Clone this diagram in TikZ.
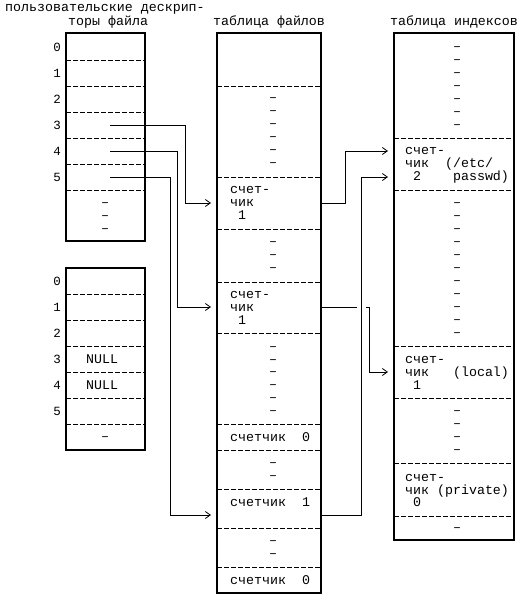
\documentclass[tikz,border=0pt]{standalone}
\usepackage{fontspec}
\newfontfamily\monof{Liberation Mono}
\usetikzlibrary{arrows.meta}
\begin{document}
\begin{tikzpicture}[x=1pt,y=-1pt,
  tbl/.style={draw, line width=2.5pt, inner sep=0pt, outer sep=0pt, anchor=north west},
  sep/.style={line width=0.9pt, dash pattern=on 5pt off 2pt},
  conn/.style={line width=0.9pt},
  arr/.style={conn, -{Straight Barb[length=5pt,width=7pt,line width=0.8pt]}},
  txt/.style={anchor=base west, inner sep=0pt, font=\monof\fontsize{13.3}{15}\selectfont},
  num/.style={anchor=base, inner sep=0pt, font=\monof\fontsize{12.5}{15}\selectfont},
  dsh/.style={anchor=base, inner sep=0pt, font=\monof\fontsize{13.3}{15}\selectfont}]
\useasboundingbox (0,0) rectangle (520,601);

% titles
\node[txt] (title1) at (5,12) {пользовательские дескрип-};
\node[txt] (title2) at (68,26) {торы файла};
\node[txt] (title3) at (213,26) {таблица файлов};
\node[txt] (title4) at (390,26) {таблица индексов};

% tables
\node[tbl, minimum width=79pt, minimum height=208pt] (ud1) at (66,33) {};
\node[tbl, minimum width=79pt, minimum height=182pt] (ud2) at (66,268) {};
\node[tbl, minimum width=104pt, minimum height=560pt] (ft) at (217,33) {};
\node[tbl, minimum width=120pt, minimum height=507pt] (it) at (394,33) {};

% separators
\foreach \y in {60,86,112,138,164,190} \draw[sep] (66,\y) -- (145,\y);
\foreach \y in {294,320,346,372,398,424} \draw[sep] (66,\y) -- (145,\y);
\foreach \y in {86,177,229,282,333,424,450,489,528,567} \draw[sep] (217,\y) -- (321,\y);
\foreach \y in {138,190,346,398,463,516} \draw[sep] (394,\y) -- (514,\y);

% row numbers
\foreach \y [count=\i from 0] in {47,73,99,125,151,177} \node[num] (na\i) at (57,\y+4.5) {\i};
\foreach \y [count=\i from 0] in {281,307,333,359,385,411} \node[num] (nb\i) at (57,\y+4.5) {\i};

% dashes
\foreach \y [count=\i] in {203,216,229} \node[dsh] (da\i) at (105,\y+3.5) {–};
\node[dsh] (db1) at (105,440.5) {–};
\foreach \y [count=\i] in {98,111,124,137,150,163,242,255,268,347,360,372,385,398,411,463,476,541,554}
  \node[dsh] (dm\i) at (273,\y+3.5) {–};
\foreach \y [count=\i] in {47,60,73,86,99,112,125,203,216,229,242,255,268,281,294,307,320,333,411,424,437,450,528}
  \node[dsh] (dr\i) at (457,\y+3.5) {–};

% NULL
\node[txt] (null3) at (86,363) {NULL};
\node[txt] (null4) at (86,389) {NULL};

% file table texts
\node[txt] (m1a) at (230,194) {счет-};
\node[txt] (m1b) at (230,207) {чик};
\node[txt] (m1c) at (230,220) {~1};
\node[txt] (m2a) at (230,298) {счет-};
\node[txt] (m2b) at (230,311) {чик};
\node[txt] (m2c) at (230,324) {~1};
\node[txt] (m3) at (230,441) {счетчик~~0};
\node[txt] (m4) at (230,506) {счетчик~~1};
\node[txt] (m5) at (230,584) {счетчик~~0};

% inode table texts
\node[txt] (r1a) at (405,155) {счет-};
\node[txt] (r1b) at (405,168) {чик~~(/etc/};
\node[txt] (r1c) at (405,181) {~2~~~~passwd)};
\node[txt] (r2a) at (405,363) {счет-};
\node[txt] (r2b) at (405,376) {чик~~~(local)};
\node[txt] (r2c) at (405,389) {~1};
\node[txt] (r3a) at (405,481) {счет-};
\node[txt] (r3b) at (405,494) {чик~(private)};
\node[txt] (r3c) at (405,506) {~0};

% connector end points
\coordinate (s3) at (110,125);
\coordinate (s4) at (110,151);
\coordinate (s5) at (110,177);
\coordinate (f1) at (211,203);
\coordinate (f2) at (211,307);
\coordinate (f4) at (211,515);
\coordinate (o1) at (321,203);
\coordinate (o2) at (321,307);
\coordinate (o2b) at (357,307);
\coordinate (o2c) at (366,307);
\coordinate (o4) at (321,515);
\coordinate (i1) at (388,151);
\coordinate (i2) at (388,177);
\coordinate (i3) at (388,372);

% connectors
\draw[arr] (s3) -- (185,125) |- (f1);
\draw[arr] (s4) -- (177,151) |- (f2);
\draw[arr] (s5) -- (170,177) |- (f4);
\draw[arr] (o1) -- (345,203) |- (i1);
\draw[arr] (o4) -- (361,515) |- (i2);
\draw[conn] (o2) -- (o2b);
\draw[arr] (o2c) -- (369,307) |- (i3);
\end{tikzpicture}
\end{document}
